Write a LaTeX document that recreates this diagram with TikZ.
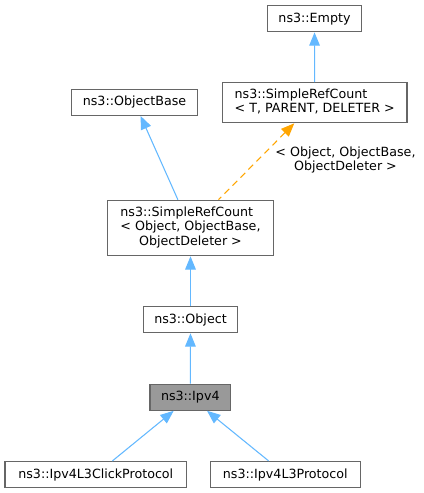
\documentclass[tikz,border=0pt]{standalone}
\usepackage{fontspec}
\setmainfont{DejaVu Sans}
\usetikzlibrary{arrows.meta}
\definecolor{edgeblue}{HTML}{63B8FF}
\definecolor{boxgray}{HTML}{666666}
\definecolor{hilitgray}{HTML}{999999}
\definecolor{tmplorange}{HTML}{FFA500}

\begin{document}
\begin{tikzpicture}[x=0.75pt, y=-0.75pt,
    every node/.style={font=\fontsize{9.5}{10.7}\selectfont, inner sep=0pt},
    cls/.style={draw=boxgray, line width=0.9pt, minimum height=19.5pt},
    hilit/.style={cls, fill=hilitgray},
    inherit/.style={draw=edgeblue, line width=0.8pt,
        {Triangle[length=10pt, width=8pt, fill=edgeblue]}-},
    tmplinst/.style={draw=tmplorange, line width=0.8pt, dash pattern=on 5pt off 3.5pt,
        {Triangle[length=10pt, width=8pt, fill=tmplorange]}-}
        ]

    \path [use as bounding box] (0,0) rectangle (424,493);

    % top row
    \node [cls, minimum width=70.9pt] (Empty) at (314.5,18.8) {ns3::Empty};
    \node [cls, minimum width=138.5pt, minimum height=30pt] (SRCT) at (314.7,102.7)
        {\begin{tabular}{@{}l@{}}ns3::SimpleRefCount\\< T, PARENT, DELETER >\end{tabular}};
    \node [cls, minimum width=94.2pt] (ObjectBase) at (134.5,102.3) {ns3::ObjectBase};

    % middle
    \node [cls, minimum width=124.2pt, minimum height=41.5pt] (SRCO) at (190.5,228)
        {\begin{tabular}{@{}l@{}}ns3::SimpleRefCount\\< Object, ObjectBase,\\
         \multicolumn{1}{@{}c@{}}{ObjectDeleter >}\end{tabular}};
    \node [cls, minimum width=70.8pt] (Object) at (190.5,319.7) {ns3::Object};
    \node [hilit, minimum width=60.5pt] (Ipv4) at (190.3,397.2) {ns3::Ipv4};

    % bottom row
    \node [cls, minimum width=136.3pt] (Click) at (95.8,474.5) {ns3::Ipv4L3ClickProtocol};
    \node [cls, minimum width=112.5pt] (L3) at (285.3,474.5) {ns3::Ipv4L3Protocol};

    \draw [inherit] (Empty) -- (SRCT);
    \draw [inherit] (ObjectBase) -- (SRCO);
    \draw [tmplinst] (SRCT) -- (SRCO);
    \draw [inherit] (SRCO) -- (Object);
    \draw [inherit] (Object) -- (Ipv4);
    \draw [inherit] (Ipv4) -- (Click);
    \draw [inherit] (Ipv4) -- (L3);

    \node [align=center] (tmplargs) at (345.5,160) {< Object, ObjectBase,\\ObjectDeleter >};

\end{tikzpicture}
\end{document}
